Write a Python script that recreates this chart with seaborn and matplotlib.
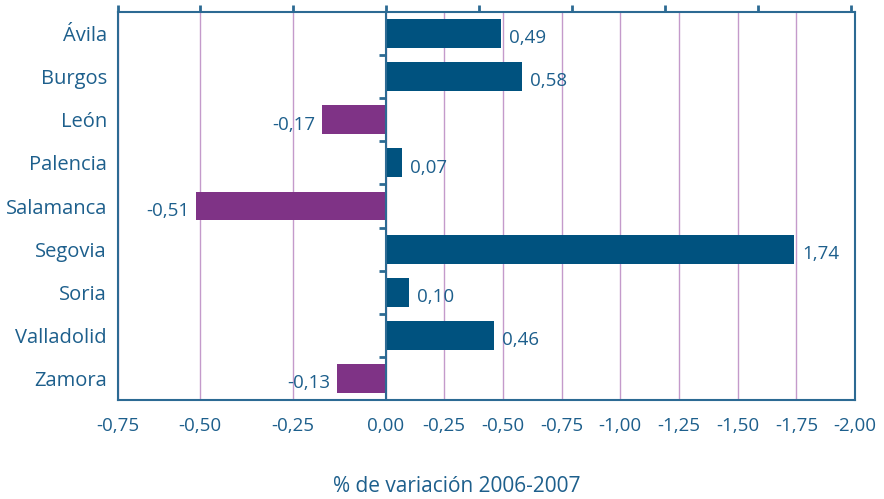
import numpy as np
import pandas as pd
import seaborn as sns
import matplotlib.pyplot as plt

# data
provincias = ["Ávila", "Burgos", "León", "Palencia", "Salamanca",
              "Segovia", "Soria", "Valladolid", "Zamora"]
variacion = [0.49, 0.58, -0.17, 0.07, -0.51, 1.74, 0.10, 0.46, -0.13]
x_ticks = [-0.72, -0.50, -0.25, 0.0, 0.25, 0.50, 0.75, 1.00, 1.25, 1.50, 1.75, 2.00]
x_ticklabels = ["-0,75", "-0,50", "-0,25", "0,00", "-0,25", "-0,50", "-0,75",
                "-1,00", "-1,25", "-1,50", "-1,75", "-2,00"]
xlabel = "% de variación 2006-2007"

df = pd.DataFrame({"provincia": provincias, "valor": variacion})
df["signo"] = np.where(df["valor"] < 0, "neg", "pos")

azul = "#00527f"
morado = "#7f3386"
txt = "#1d5f8c"
linea = "#2c6a93"

sns.set_theme(style="white")
plt.rcParams["font.family"] = ["Open Sans", "DejaVu Sans"]

fig = plt.figure(figsize=(8.84, 4.99), dpi=100)
ax = fig.add_axes([118 / 884, 1 - 400 / 499, 737 / 884, 388 / 499])

# the original uses a different scale for each side of zero
k = 372 / 235
ax.set_xscale("function", functions=(lambda x: np.where(x < 0, x * k, x),
                                     lambda x: np.where(x < 0, x / k, x)))

sns.barplot(data=df, x="valor", y="provincia", hue="signo", orient="h",
            palette={"pos": azul, "neg": morado}, dodge=False, width=0.67,
            legend=False, saturation=1, linewidth=0, edgecolor="none", ax=ax)

ax.set_xlim(-0.72, 2.0)
ax.set_ylim(8.5, -0.5)
ax.set_xticks(x_ticks)
ax.set_xticklabels(x_ticklabels)
ax.tick_params(axis="x", length=0, pad=12, labelsize=13.5, labelcolor=txt)
ax.tick_params(axis="y", length=0, pad=8, labelsize=14.5, labelcolor=txt)
ax.set_xlabel("")
ax.set_ylabel("")
ax.grid(axis="x", color="#c49acb", lw=1)
ax.set_axisbelow(True)
for s in ax.spines.values():
    s.set_color(linea)
    s.set_linewidth(1.5)

# zero line
ax.axvline(0, color=linea, lw=1.5, zorder=3)

# value labels
for i, v in enumerate(variacion):
    lab = f"{v:.2f}".replace(".", ",")
    if v >= 0:
        ax.annotate(lab, (v, i), xytext=(6, -2), textcoords="offset points",
                    ha="left", va="center_baseline", fontsize=13.5, color=txt)
    else:
        ax.annotate(lab, (v, i), xytext=(-5, -2), textcoords="offset points",
                    ha="right", va="center_baseline", fontsize=13.5, color=txt)

# small ticks on the zero line between categories
zero = ax.secondary_yaxis(0, transform=ax.transData)
zero.set_yticks(np.arange(0.5, 8.5, 1.0))
zero.set_yticklabels([])
zero.tick_params(axis="y", direction="out", length=5, width=2, color=linea)
zero.spines["left"].set_visible(False)

# tick marks on top border
top = ax.twiny()
top.set_xlim(-268 / 93, 469 / 93)
top.set_xticks([-268 / 93] + list(range(-2, 6)))
top.tick_params(axis="x", top=True, bottom=False, labeltop=False,
                direction="out", length=5, width=2, color=linea)
for s in top.spines.values():
    s.set_visible(False)

fig.text(457 / 884, 1 - 487 / 499, xlabel, ha="center", va="center",
         fontsize=15, color=txt)

fig.savefig("out.png", dpi=100)
